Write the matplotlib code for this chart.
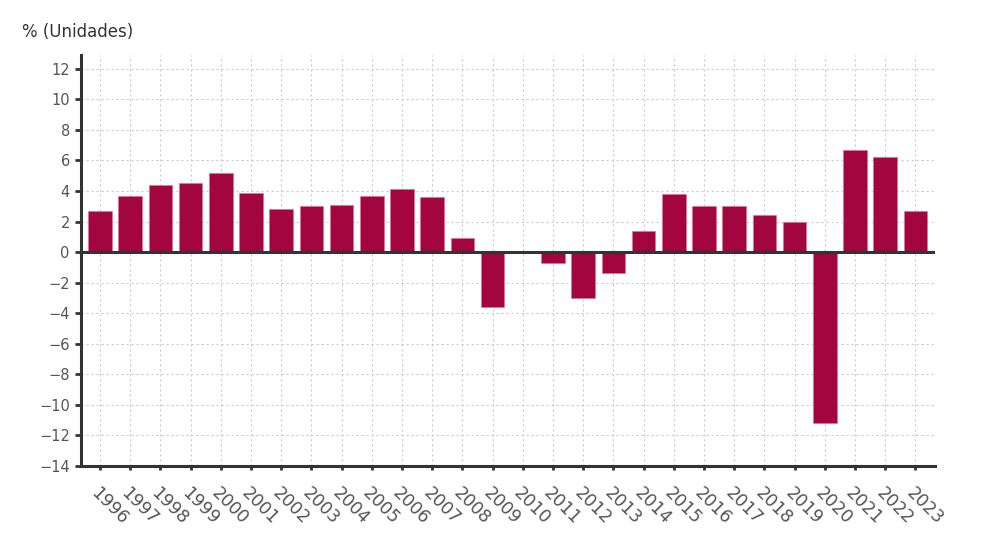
import matplotlib
matplotlib.use("Agg")
import matplotlib.pyplot as plt

anios = [str(a) for a in range(1996, 2024)]
valores = [2.7, 3.7, 4.4, 4.5, 5.2, 3.9, 2.8, 3.0, 3.1, 3.7, 4.1, 3.6, 0.9, -3.6,
           0.1, -0.7, -3.0, -1.4, 1.4, 3.8, 3.0, 3.0, 2.4, 2.0, -11.2, 6.7, 6.2, 2.7]
yticks = list(range(-14, 13, 2))

fig = plt.figure(figsize=(9.9, 5.56), dpi=100)
ax = fig.add_axes([0.0818, 0.162, 0.863, 0.739])

x = list(range(len(anios)))
ax.bar(x, valores, width=0.78, color="#A3063F", edgecolor="#E07090", linewidth=0.4, zorder=3)
ax.axhline(0, color="#333333", linewidth=2.2, zorder=4)

ax.set_xlim(-0.63, len(anios) - 1 + 0.66)
ax.set_ylim(-14, 12.9)
ax.set_yticks(yticks)
ax.set_yticklabels([str(v).replace("-", "\u2212") for v in yticks])
ax.set_xticks(x)
ax.set_xticklabels(anios, rotation=-45, ha="left", va="top", rotation_mode="anchor")

ax.grid(True, color="#cccccc", linestyle=(0, (2, 2.5)), linewidth=0.8, zorder=0)
ax.set_axisbelow(True)

for s in ["top", "right"]:
    ax.spines[s].set_visible(False)
ax.spines["left"].set_color("#333333")
ax.spines["left"].set_linewidth(2.2)
ax.spines["bottom"].set_color("#333333")
ax.spines["bottom"].set_linewidth(2.2)

ax.tick_params(axis="y", colors="#333333", length=4, width=2, labelsize=10.5, labelcolor="#555555", pad=4)
ax.tick_params(axis="x", colors="#333333", length=3, width=2, labelsize=12.5, labelcolor="#555555", pad=10)

fig.text(0.022, 0.942, "% (Unidades)", fontsize=12, color="#333333", ha="left", va="center")

fig.savefig("out.png", dpi=100)
